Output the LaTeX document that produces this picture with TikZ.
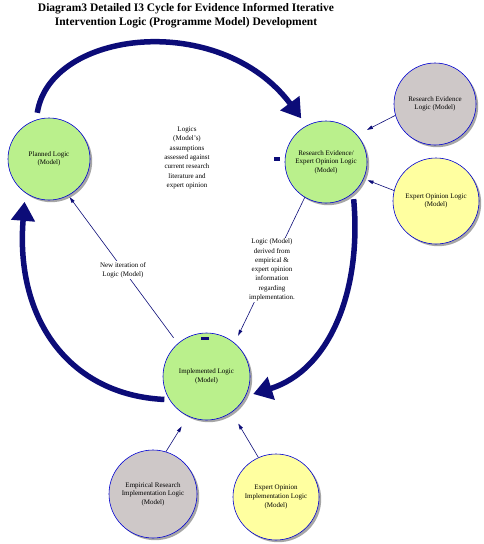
\documentclass[tikz,border=0pt]{standalone}
\usepackage{fontspec}
\setmainfont{Liberation Serif}
\usetikzlibrary{arrows.meta,shadows}
\definecolor{navy}{RGB}{12,12,120}
\definecolor{cborder}{RGB}{0,0,210}
\definecolor{cgreen}{RGB}{186,240,140}
\definecolor{cgrey}{RGB}{206,200,200}
\definecolor{cyellow}{RGB}{255,255,160}
\tikzset{
  bubble/.style={circle, draw=cborder, line width=0.6pt, align=center,
    font=\fontsize{7}{8.6}\selectfont, inner sep=0pt,
    drop shadow={shadow xshift=2.2pt, shadow yshift=-2.2pt, fill=gray!70, opacity=1}},
  greenb/.style={bubble, fill=cgreen},
  greyb/.style={bubble, fill=cgrey},
  yellowb/.style={bubble, fill=cyellow},
  bigarrow/.style={draw=navy, line width=5.5pt, -{Triangle[length=19pt,width=23pt]}},
  thinarrow/.style={draw=navy, line width=0.6pt, -{Triangle[length=6pt,width=3.5pt]}},
  lbl/.style={align=center, font=\fontsize{7}{9.3}\selectfont, fill=white, inner sep=1pt},
  stub/.style={fill=navy}
}
\begin{document}
\begin{tikzpicture}[x=1pt,y=-1pt]
\useasboundingbox (0,0) rectangle (483,544);

\node[align=center, font=\bfseries\fontsize{11.5}{13.5}\selectfont] (title) at (186,15.5)
  {Diagram3 Detailed I3 Cycle for Evidence Informed Iterative\\Intervention Logic (Programme Model) Development};

\node[greenb, minimum size=82pt] (pl) at (49,159) {Planned Logic\\(Model)};
\node[greenb, minimum size=82pt] (re) at (326,162) {Research Evidence/\\Expert Opinion Logic\\(Model)};
\node[greyb, minimum size=82pt] (rel) at (435,104) {Research Evidence\\Logic (Model)};
\node[yellowb, minimum size=86pt] (eol) at (436,201) {Expert Opinion Logic\\(Model)};
\node[greenb, minimum size=87pt] (il) at (206.5,376.5) {Implemented Logic\\(Model)};
\node[greyb, minimum size=88pt] (er) at (153,494) {Empirical Research\\Implementation Logic\\(Model)};
\node[yellowb, minimum size=86pt] (eoi) at (276,497) {Expert Opinion\\Implementation Logic\\(Model)};

% thick cycle arrows
\draw[bigarrow, shorten <=7pt, shorten >=9pt] (pl.108) .. controls (50,30) and (220,10) .. (re.118);
\draw[bigarrow, shorten <=6pt, shorten >=8pt] (re.-49) .. controls (362,290) and (330,370) .. (il.-27);
\draw[bigarrow, shorten <=5pt, shorten >=9pt] (il.-148) .. controls (70,395) and (15,320) .. (pl.-125);

% thin arrows
\draw[thinarrow, shorten >=11pt] (rel.196) -- (re.41);
\draw[thinarrow, shorten >=4pt] (eol.166) -- (re.-24);
\draw[thinarrow, shorten >=12pt] (er.73) -- (il.-115);
\draw[thinarrow, shorten >=13pt] (eoi.114) -- (il.-55);
\draw[thinarrow, shorten <=7pt, shorten >=2pt] (il.131) -- (pl.-62);
\draw[thinarrow, shorten >=8pt] (re.-121) -- (il.50);

% small marks
\fill[stub] (274,156.5) rectangle (280,160.5);
\fill[stub] (201,337) rectangle (209,339.5);

% labels
\node[lbl, fill=none] (l1) at (187,158) {Logics\\(Model's)\\assumptions\\assessed against\\current research\\literature and\\expert opinion};
\node[lbl] (l2) at (123,270) {New iteration of\\Logic (Model)};
\node[lbl] (l3) at (272,270) {Logic (Model)\\derived from\\empirical \&\\expert opinion\\information\\regarding\\implementation.};
\end{tikzpicture}
\end{document}
